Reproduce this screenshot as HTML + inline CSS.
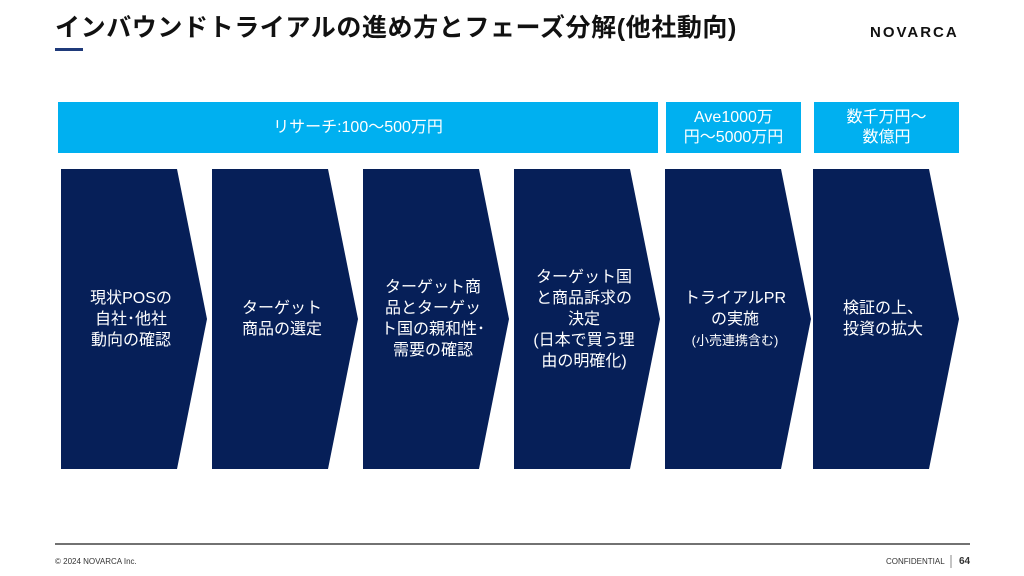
<!DOCTYPE html>
<html><head><meta charset="utf-8"><style>
body{margin:0;width:1024px;height:576px;position:relative;background:#fff;font-family:"Liberation Sans","Noto Sans CJK JP",sans-serif;overflow:hidden}
.a{position:absolute}
.bar{position:absolute;background:#00b0f0;color:#fff;display:flex;align-items:center;justify-content:center;text-align:center;font-size:16px;line-height:20px}
.t{position:absolute;color:#fff;text-align:center;font-size:16px;line-height:21px;display:flex;align-items:center;justify-content:center;top:169px;height:300px}
</style></head><body>
<div class="a" style="left:55px;top:8px;font-size:25px;font-weight:bold;color:#111;letter-spacing:0.6px">インバウンドトライアルの進め方とフェーズ分解(他社動向)</div>
<div class="a" style="left:55px;top:48px;width:28px;height:3px;background:#1f3a7a"></div>
<div class="a" style="left:870px;top:24px;font-size:15px;font-weight:bold;letter-spacing:2px;color:#111">NOVARCA</div>
<div class="bar" style="left:58px;top:102px;width:600px;height:51px">リサーチ:100〜500万円</div>
<div class="bar" style="left:666px;top:102px;width:135px;height:51px">Ave1000万<br>円〜5000万円</div>
<div class="bar" style="left:814px;top:102px;width:145px;height:51px">数千万円〜<br>数億円</div>
<svg class="a" style="left:0;top:0" width="1024" height="576">
<g fill="#061f58">
<polygon points="61,169 177,169 207,319 177,469 61,469"/>
<polygon points="212,169 328,169 358,319 328,469 212,469"/>
<polygon points="363,169 479,169 509,319 479,469 363,469"/>
<polygon points="514,169 630,169 660,319 630,469 514,469"/>
<polygon points="665,169 781,169 811,319 781,469 665,469"/>
<polygon points="813,169 929,169 959,319 929,469 813,469"/>
</g>
<line x1="55" y1="544" x2="970" y2="544" stroke="#444" stroke-width="1.5"/>
<line x1="951" y1="555" x2="951" y2="568" stroke="#888" stroke-width="1"/>
</svg>
<div class="t" style="left:61px;width:140px">現状POSの<br>自社･他社<br>動向の確認</div>
<div class="t" style="left:212px;width:140px">ターゲット<br>商品の選定</div>
<div class="t" style="left:363px;width:140px">ターゲット商<br>品とターゲッ<br>ト国の親和性･<br>需要の確認</div>
<div class="t" style="left:514px;width:140px">ターゲット国<br>と商品訴求の<br>決定<br>(日本で買う理<br>由の明確化)</div>
<div class="t" style="left:665px;width:140px"><div>トライアルPR<br>の実施<br><span style="font-size:13px">(小売連携含む)</span></div></div>
<div class="t" style="left:813px;width:140px">検証の上、<br>投資の拡大</div>
<div class="a" style="left:55px;top:557px;font-size:8px;color:#333">© 2024 NOVARCA Inc.</div>
<div class="a" style="left:886px;top:557px;font-size:8px;color:#333">CONFIDENTIAL</div>
<div class="a" style="left:959px;top:556px;font-size:10px;font-weight:bold;color:#333">64</div>
</body></html>
